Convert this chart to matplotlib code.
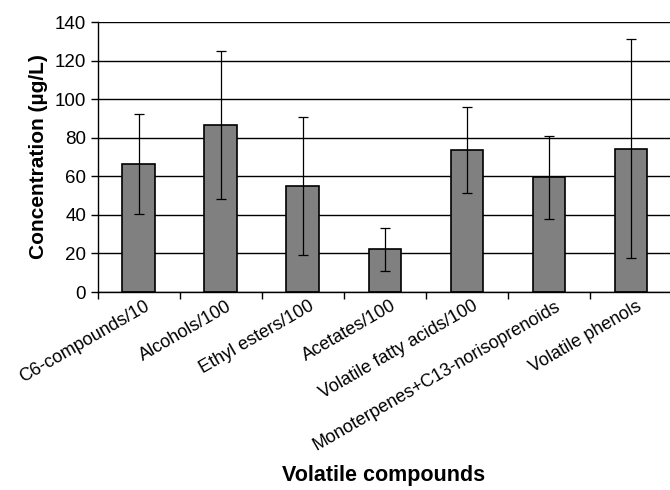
import numpy as np
import matplotlib.pyplot as plt
import matplotlib.transforms as mtransforms

plt.rcParams['font.family'] = ['Liberation Sans', 'DejaVu Sans']

categories = ["C6-compounds/10", "Alcohols/100", "Ethyl esters/100", "Acetates/100",
              "Volatile fatty acids/100", "Monoterpenes+C13-norisoprenoids",
              "Volatile phenols"]
means = [66.5, 86.5, 55.0, 22.2, 73.7, 59.4, 74.2]
sds = [26.0, 38.3, 35.7, 11.2, 22.3, 21.6, 56.8]

fig = plt.figure(figsize=(6.7, 4.9), dpi=100)
ax = fig.add_axes([0.146, 0.404, 0.857, 0.551])

x = np.arange(len(categories))
ax.set_axisbelow(True)
ax.yaxis.grid(True, color="black", linewidth=1.0)
ax.bar(x, means, width=0.4, color="#808080", edgecolor="black", linewidth=1.2,
       yerr=sds, error_kw=dict(ecolor="black", elinewidth=0.9, capsize=3.5, capthick=0.9))

ax.set_xlim(-0.5, len(categories) - 0.5)
ax.set_ylim(0, 140)
ax.set_yticks(np.arange(0, 141, 20))
ax.set_xticks(np.arange(-0.5, len(categories), 1.0), minor=False)
ax.set_xticklabels([])
ax.set_xticks(x, minor=True)
ax.set_xticklabels(categories, minor=True, rotation=30, ha="right",
                   rotation_mode="anchor", fontsize=13)
ax.tick_params(axis="x", which="minor", length=0, pad=4)
ax.tick_params(axis="x", which="major", length=5, direction="out", width=1)
ax.tick_params(axis="y", length=5, direction="out", width=1, labelsize=13.5)

# nudge the rotated labels a bit to the right, like the original
shift = mtransforms.ScaledTranslation(4 / 72, 0, fig.dpi_scale_trans)
for lbl in ax.get_xticklabels(minor=True):
    lbl.set_transform(lbl.get_transform() + shift)

for side in ("top", "right"):
    ax.spines[side].set_visible(False)
ax.spines["left"].set_linewidth(1.0)
ax.spines["bottom"].set_linewidth(1.0)

ax.set_ylabel("Concentration (µg/L)", fontsize=15, fontweight="bold", labelpad=5)
fig.text(0.573, 0.018, "Volatile compounds", fontsize=15.5, fontweight="bold", ha="center")

fig.savefig("out.png", dpi=100)
